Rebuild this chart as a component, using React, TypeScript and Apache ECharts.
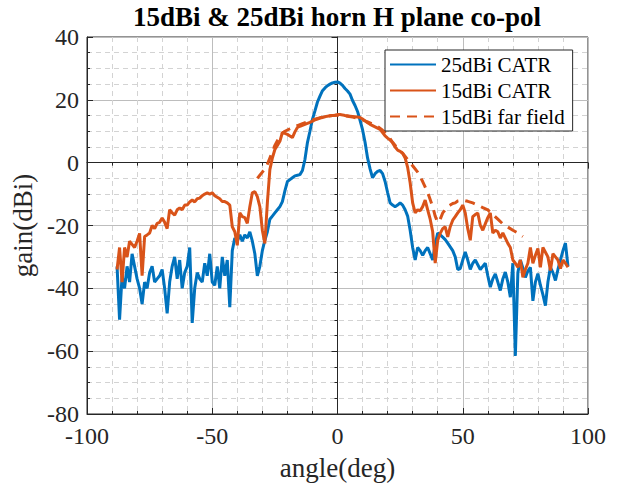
import React, { useEffect, useRef } from "react";
import * as echarts from "echarts";

const titleText = "15dBi & 25dBi horn H plane co-pol";
const xName = "angle(deg)";
const yName = "gain(dBi)";
const seriesNames = ["25dBi CATR", "15dBi CATR", "15dBi far field"];
const xTicks = { min: -100, max: 100, interval: 50 };
const yTicks = { min: -80, max: 40, interval: 20 };

// [angle(deg), gain(dBi)]
const catr25: [number, number][] = [
  [-88, -33], [-87, -50], [-86, -36], [-85, -40], [-84, -33], [-83, -38], [-82, -29], [-81, -33],
  [-80, -37], [-79, -40], [-78, -45], [-77, -38], [-76, -40], [-75, -35], [-74, -33], [-73, -38],
  [-72, -37], [-71, -36], [-70, -34], [-69, -40], [-68, -48], [-67, -38], [-66, -33], [-65, -30],
  [-64, -37], [-63, -31], [-62, -40], [-61, -35], [-60, -33], [-59, -27], [-58, -51], [-57, -40],
  [-56, -35], [-55, -37], [-54, -38], [-53, -32], [-52, -36], [-51, -29], [-50, -38], [-49, -39],
  [-48, -33], [-47, -40], [-46, -30], [-45, -36], [-44, -31], [-43, -46], [-42, -28], [-41, -24],
  [-40, -25], [-39, -23], [-38, -25], [-37, -23], [-36, -24], [-35, -22], [-34, -25], [-33, -29],
  [-32, -36], [-31, -33], [-30, -28], [-29, -24.7], [-28, -22], [-27, -18], [-26, -17], [-25, -16],
  [-24, -15], [-23, -14], [-22, -12.4], [-21, -9], [-20, -6], [-19, -5.4], [-18, -4.8], [-17, -4.2],
  [-16, -4], [-15, -3.8], [-14, -2.5], [-13, 1], [-12, 6.4], [-11, 10], [-10, 13.8], [-9, 16.5],
  [-8, 19.3], [-7, 21.2], [-6, 22.9], [-5, 23.8], [-4, 24.5], [-3, 25], [-2, 25.4], [-1, 25.6],
  [0, 25.7], [1, 25.3], [2, 24.6], [3, 23.6], [4, 22.8], [5, 21.8], [6, 19.8], [7, 18.2],
  [8, 16.3], [9, 13.5], [10, 10.5], [11, 6.5], [12, 1.5], [13, -2], [14, -4.8], [15, -3.5],
  [16, -2.8], [17, -2.5], [18, -3.5], [19, -6], [20, -9.5], [21, -12.8], [22, -13.5], [23, -14],
  [24, -13.5], [25, -12.8], [26, -13.5], [27, -15], [28, -17], [29, -21.5], [30, -27], [31, -31],
  [32, -27], [33, -28], [34, -29.5], [35, -28], [36, -27], [37, -29], [38, -31], [39, -26],
  [40, -22.4], [41, -23], [42, -23.7], [43, -24.5], [44, -25.6], [45, -26.8], [46, -28], [47, -30],
  [48, -34], [49, -33.7], [50, -31], [51, -28.4], [52, -31], [53, -34], [54, -32], [55, -31],
  [56, -32.5], [57, -34], [58, -33], [59, -32], [60, -36], [61, -39.6], [62, -37], [63, -35.4],
  [64, -38], [65, -40.7], [66, -37], [67, -34.8], [68, -38], [69, -42.8], [70, -32], [71, -61.5],
  [72, -35], [73, -31], [74, -33.5], [75, -36.5], [76, -34.5], [77, -33.3], [78, -44], [79, -38],
  [80, -35.3], [81, -39], [82, -42], [83, -45.5], [84, -38], [85, -33.3], [86, -35], [87, -37.5],
  [88, -34], [89, -31], [90, -28], [91, -25.6], [92, -33],
];

const catr15: [number, number][] = [
  [-88, -34], [-87, -27], [-86, -38], [-85, -27], [-84, -30], [-83, -25], [-82, -26], [-81, -27],
  [-80, -25], [-79, -22.5], [-78, -36], [-77, -23.5], [-76, -23], [-75, -22.4], [-74, -20], [-73, -21],
  [-72, -19.3], [-71, -19], [-70, -17.6], [-69, -19], [-68, -21], [-67, -15], [-66, -16], [-65, -16.7],
  [-64, -15], [-63, -14.4], [-62, -15], [-61, -13.5], [-60, -13.5], [-59, -12.5], [-58, -11.9], [-57, -12.5],
  [-56, -11.5], [-55, -11.3], [-54, -10.5], [-53, -10], [-52, -9.6], [-51, -10], [-50, -9.6], [-49, -10.5],
  [-48, -11], [-47, -11.5], [-46, -12.4], [-45, -12.4], [-44, -12.8], [-43, -13.5], [-42, -20.4], [-41, -22],
  [-40, -26.3], [-39, -16], [-38, -17.2], [-37, -17.5], [-36, -19.3], [-35, -14], [-34, -9.6], [-33, -9.2],
  [-32, -10.8], [-31, -14], [-30, -21.5], [-29, -25.7], [-28, -12.8], [-27, -2.2], [-26, 1.5], [-25, 4.2],
  [-24, 5.5], [-23, 6.8], [-22, 9.6], [-21, 9.3], [-20, 9], [-19, 8.5], [-18, 8], [-17, 9.8],
  [-16, 11.2], [-15, 11.6], [-14, 11.9], [-13, 12.2], [-12, 12.5], [-11, 12.8], [-10, 13.2], [-9, 13.6],
  [-8, 13.9], [-7, 14.2], [-6, 14.4], [-5, 14.6], [-4, 14.8], [-3, 14.9], [-2, 15], [-1, 15.1],
  [0, 15.3], [1, 15.3], [2, 15.2], [3, 15], [4, 14.9], [5, 14.8], [6, 14.7], [7, 14.6],
  [8, 14.5], [9, 14.4], [10, 13.9], [11, 13.3], [12, 12.7], [13, 12.2], [14, 11.8], [15, 11.4],
  [16, 11], [17, 10.6], [18, 9.6], [19, 8.5], [20, 7.8], [21, 7.2], [22, 6.3], [23, 5],
  [24, 4], [25, 3.6], [26, 3], [27, 1.5], [28, -1.5], [29, -6.4], [30, -12.8], [31, -16],
  [32, -15], [33, -15.3], [34, -14], [35, -11.9], [36, -15], [37, -18], [38, -22], [39, -32],
  [40, -24.7], [41, -22.5], [42, -21], [43, -20.4], [44, -23.6], [45, -20.4], [46, -18.3], [47, -17.2],
  [48, -16], [49, -15], [50, -13.5], [51, -16], [52, -21], [53, -24.7], [54, -17.2], [55, -16.5],
  [56, -16], [57, -19.9], [58, -21.5], [59, -19.5], [60, -17.5], [61, -16], [62, -22.4], [63, -21.5],
  [64, -22], [65, -24], [66, -22.4], [67, -24], [68, -25.7], [69, -27], [70, -31], [71, -32],
  [72, -33.3], [73, -31], [74, -36.5], [75, -34], [76, -32], [77, -27], [78, -32], [79, -29.5],
  [80, -27.3], [81, -33.3], [82, -27], [83, -28.5], [84, -30], [85, -34.3], [86, -29], [87, -30],
  [88, -31], [89, -33.7], [90, -31], [91, -32], [92, -33.3],
];

const farField15: [number, number][] = [
  [-32, -5], [-31, -4], [-30, -3], [-29, -2], [-28, -0.5], [-27, 1.5], [-26, 3.5], [-25, 5.5],
  [-24, 7], [-23, 8.3], [-22, 9.4], [-21, 10], [-20, 10.4], [-19, 10.8], [-18, 11.2], [-17, 11.5],
  [-16, 11.8], [-14, 12.4], [-12, 13], [-10, 13.6], [-8, 14.1], [-6, 14.5], [-4, 14.8], [-2, 15],
  [0, 15.1], [2, 15], [4, 14.8], [6, 14.5], [8, 14.1], [10, 13.6], [12, 13], [14, 12.3],
  [16, 11.5], [18, 10.3], [20, 8.8], [22, 6.5], [24, 4.5], [26, 3], [28, 1], [30, -1],
  [32, -3], [34, -6], [36, -9.5], [38, -14], [39, -17], [40, -19], [41, -18], [42, -16],
  [43, -15], [44, -14], [45, -13.5], [46, -13], [47, -12.8], [48, -12.2], [50, -11.9], [52, -12.3],
  [54, -12.8], [56, -13.5], [58, -14.3], [60, -15], [62, -16.5], [64, -18], [66, -19.5], [68, -20.5],
  [70, -21.5], [72, -22.4], [74, -23.5],
];

const BLUE = "#0072BD";
const ORANGE = "#D95319";
const FONT = "Liberation Serif";
const TXT = "#262626";

export default function App() {
  const ref = useRef<HTMLDivElement>(null);
  useEffect(() => {
    if (!ref.current) return;
    const chart = echarts.init(ref.current, null, { renderer: "svg" });
    const frameAxisCommon = {
      axisLine: { show: true, lineStyle: { color: TXT, width: 1 } },
      axisTick: { show: true, inside: true, length: 6, lineStyle: { color: TXT } },
      axisLabel: { show: false },
      splitLine: { show: false },
    };
    chart.setOption({
      animation: false,
      backgroundColor: "#ffffff",
      graphic: [
        {
          type: "text",
          x: 337,
          y: 3,
          style: {
            text: titleText,
            font: `bold 27px "Liberation Serif"`,
            fill: "#000",
            textAlign: "center",
            textVerticalAlign: "top",
          },
        },
      ],
      grid: { left: 87, right: 35, top: 37, bottom: 72, show: true, borderColor: TXT, borderWidth: 1, backgroundColor: "#fff" },
      legend: {
        orient: "vertical",
        left: 385,
        top: 50,
        data: seriesNames,
        itemWidth: 46,
        itemHeight: 14,
        itemGap: 5,
        padding: [4, 8, 4, 4],
        backgroundColor: "#fff",
        borderColor: TXT,
        borderWidth: 1,
        itemStyle: { color: "transparent", borderWidth: 0, opacity: 0 },
        textStyle: { fontFamily: FONT, fontSize: 21, color: "#000" },
      },
      xAxis: [
        {
          type: "value",
          min: xTicks.min,
          max: xTicks.max,
          interval: xTicks.interval,
          name: xName,
          nameLocation: "middle",
          nameGap: 40,
          nameTextStyle: { fontFamily: FONT, fontSize: 27, color: TXT },
          axisLine: { show: true, onZero: false, lineStyle: { color: TXT } },
          axisTick: { show: true, inside: true, length: 6, lineStyle: { color: TXT } },
          minorTick: { show: true, inside: true, length: 3, splitNumber: 5, lineStyle: { color: TXT } },
          axisLabel: { fontFamily: FONT, fontSize: 24, color: TXT, margin: 10 },
          splitLine: { show: true, lineStyle: { color: "#bdbdbd", width: 1 } },
          minorSplitLine: { show: true, lineStyle: { color: "#d3d3d3", width: 1, type: [5, 4] } },
        },
        {
          type: "value",
          position: "top",
          min: xTicks.min,
          max: xTicks.max,
          interval: xTicks.interval,
          ...frameAxisCommon,
          minorTick: { show: true, inside: true, length: 3, splitNumber: 5, lineStyle: { color: TXT } },
        },
      ],
      yAxis: [
        {
          type: "value",
          min: yTicks.min,
          max: yTicks.max,
          interval: yTicks.interval,
          name: yName,
          nameLocation: "middle",
          nameGap: 46,
          nameTextStyle: { fontFamily: FONT, fontSize: 27, color: TXT },
          axisLine: { show: true, onZero: false, lineStyle: { color: TXT } },
          axisTick: { show: true, inside: true, length: 6, lineStyle: { color: TXT } },
          minorTick: { show: true, inside: true, length: 3, splitNumber: 4, lineStyle: { color: TXT } },
          axisLabel: { fontFamily: FONT, fontSize: 24, color: TXT, margin: 8 },
          splitLine: { show: true, lineStyle: { color: "#bdbdbd", width: 1 } },
          minorSplitLine: { show: true, lineStyle: { color: "#d3d3d3", width: 1, type: [5, 4] } },
        },
        {
          type: "value",
          position: "right",
          min: yTicks.min,
          max: yTicks.max,
          interval: yTicks.interval,
          ...frameAxisCommon,
          minorTick: { show: true, inside: true, length: 3, splitNumber: 4, lineStyle: { color: TXT } },
        },
      ],
      series: [
        {
          name: seriesNames[0],
          type: "line",
          data: catr25,
          symbol: "none",
          color: BLUE,
          lineStyle: { color: BLUE, width: 3 },
        },
        {
          name: seriesNames[1],
          type: "line",
          data: catr15,
          symbol: "none",
          color: ORANGE,
          lineStyle: { color: ORANGE, width: 3 },
        },
        {
          name: seriesNames[2],
          type: "line",
          data: farField15,
          symbol: "none",
          color: ORANGE,
          lineStyle: { color: ORANGE, width: 3, type: [10, 7] },
        },
      ],
    });
    return () => chart.dispose();
  }, []);
  return (
    <div
      ref={ref}
      style={{ position: "fixed", left: 0, top: 0, width: 623, height: 486, background: "#fff" }}
    />
  );
}
